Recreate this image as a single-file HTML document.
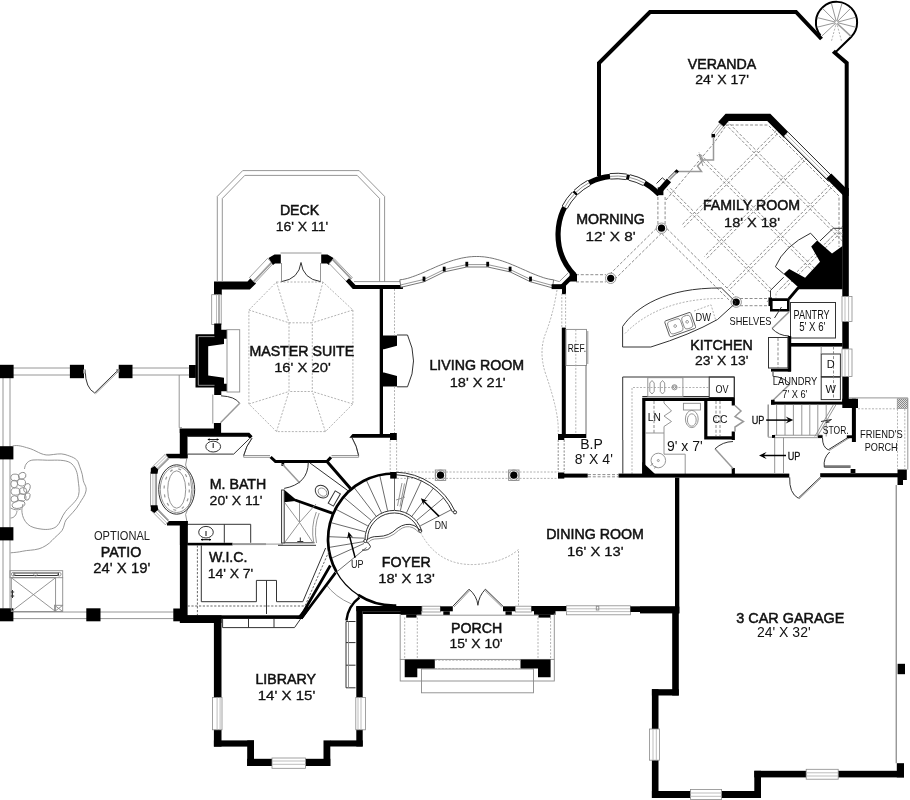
<!DOCTYPE html>
<html><head><meta charset="utf-8"><title>Floor Plan</title>
<style>
html,body{margin:0;padding:0;background:#fff}
svg{display:block;will-change:transform;filter:blur(0.35px)}
.w{fill:#000;stroke:none}
.wl{fill:none;stroke:#000;stroke-linejoin:miter;stroke-linecap:butt}
.t{fill:none;stroke:#333;stroke-width:1}
.tf{fill:#fff;stroke:#333;stroke-width:1}
.wf{fill:#fff;stroke:#8a8a8a;stroke-width:0.8}
.g{fill:none;stroke:#8a8a8a;stroke-width:0.9}
.gf{fill:#fff;stroke:#8a8a8a;stroke-width:0.9}
.d{fill:none;stroke:#777;stroke-width:0.85;stroke-dasharray:3 1.8}
.d2{fill:none;stroke:#a0a0a0;stroke-width:0.8;stroke-dasharray:2 1.5}
.dk{fill:none;stroke:#222;stroke-width:1.1}
.gl{fill:none;stroke:#b5b5b5;stroke-width:0.9}
.gf2{fill:#fff;stroke:#666;stroke-width:0.9}
.tr{fill:none;stroke:#5a5a5a;stroke-width:0.9}
.jet{fill:none;stroke:#999;stroke-width:1.2;stroke-dasharray:3 6}
.gd{fill:none;stroke:#999;stroke-width:1.5}
.dd{fill:none;stroke:#555;stroke-width:0.9;stroke-dasharray:2.2 1.6}
text{font-family:"Liberation Sans",sans-serif;fill:#111}
.r{stroke:#111;stroke-width:0.5}
.rd{stroke:#111;stroke-width:0.3}
.s{stroke:none}
.l{stroke:none;fill:#222}
.gw{fill:#999;stroke:none}
.wh{fill:none;stroke:#ccc;stroke-width:0.7}
.ar{fill:none;stroke:#000;stroke-width:1.5}
</style></head><body>
<svg width="910" height="800" viewBox="0 0 910 800">
<rect x="0" y="0" width="910" height="800" fill="#fff"/>
<path class="wl" stroke-width="4" d="M599,176 L599,63 L650,12 L796,12 L821.5,39"/>
<path class="wl" stroke-width="4" d="M836.3,51.2 L834.8,52.7 L846.7,63 L846.7,196"/>
<path class="wl" stroke-width="2" d="M820.5,35.4 A20.6,20.6 0 1 1 851.1,37.0 L835.7,52"/>
<line class="g" x1="835.0" y1="23.8" x2="822.0" y2="35.9"/>
<line class="g" x1="834.6" y1="22.9" x2="817.3" y2="27.2"/>
<line class="g" x1="834.6" y1="21.9" x2="817.3" y2="17.6"/>
<line class="g" x1="835.1" y1="21.0" x2="822.5" y2="8.4"/>
<line class="g" x1="836.0" y1="20.5" x2="831.4" y2="3.3"/>
<line class="g" x1="837.1" y1="20.5" x2="842.0" y2="3.4"/>
<line class="g" x1="837.9" y1="21.0" x2="850.5" y2="8.4"/>
<line class="g" x1="838.4" y1="21.9" x2="855.6" y2="17.3"/>
<line class="g" x1="838.4" y1="22.9" x2="855.7" y2="27.2"/>
<line class="d2" x1="837.3" y1="25.3" x2="841.6" y2="41.3"/>
<line class="d2" x1="835.7" y1="25.3" x2="831.4" y2="41.3"/>
<line class="gd" x1="837.7" y1="24.0" x2="851.0" y2="36.4"/>
<circle class="gf" cx="836.5" cy="22.4" r="1.8"/>
<clipPath id="famclip"><path d="M661,196 L713,136 L725,121 L770,121 L843,194 L843,290 L771,290 L771,302 L737,302 Z"/></clipPath>
<g clip-path="url(#famclip)">
<line class="d" x1="530.8" y1="100.0" x2="760.8" y2="330.0"/>
<line class="d" x1="535.2" y1="100.0" x2="765.2" y2="330.0"/>
<line class="d" x1="577.8" y1="100.0" x2="807.8" y2="330.0"/>
<line class="d" x1="582.2" y1="100.0" x2="812.2" y2="330.0"/>
<line class="d" x1="641.8" y1="100.0" x2="871.8" y2="330.0"/>
<line class="d" x1="646.2" y1="100.0" x2="876.2" y2="330.0"/>
<line class="d" x1="701.3" y1="100.0" x2="931.3" y2="330.0"/>
<line class="d" x1="705.7" y1="100.0" x2="935.7" y2="330.0"/>
<line class="d" x1="806.8" y1="100.0" x2="576.8" y2="330.0"/>
<line class="d" x1="811.2" y1="100.0" x2="581.2" y2="330.0"/>
<line class="d" x1="860.8" y1="100.0" x2="630.8" y2="330.0"/>
<line class="d" x1="865.2" y1="100.0" x2="635.2" y2="330.0"/>
<line class="d" x1="914.8" y1="100.0" x2="684.8" y2="330.0"/>
<line class="d" x1="919.2" y1="100.0" x2="689.2" y2="330.0"/>
<line class="d" x1="968.8" y1="100.0" x2="738.8" y2="330.0"/>
<line class="d" x1="973.2" y1="100.0" x2="743.2" y2="330.0"/>
</g>
<path class="d" d="M666.0,200.0 L714.0,143.0 L726.5,125.0 L768.0,125.0 L839.0,196.0 L839.0,247.0"/>
<path class="wl" stroke-width="7.2" d="M720.8,124.5 L727.2,117.4 L768.8,117.4 L787,135.8"/>
<path class="wf" d="M784.1,135.9 L829.1,180.9 L832.9,177.1 L787.9,132.1 Z"/>
<line class="gl" x1="786.0" y1="134.0" x2="831.0" y2="179.0"/>
<line class="t" x1="788.5" y1="132.5" x2="832.5" y2="176.5"/>
<line class="t" x1="784.0" y1="137.0" x2="828.5" y2="181.5"/>
<path class="wl" stroke-width="7.2" d="M828.8,176 L846,193.2"/>
<rect class="w" x="842.3" y="188.0" width="6.5" height="214.0"/>
<path class="wf" d="M715.3,136.4 L723.3,126.4 L719.7,123.6 L711.7,133.6 Z"/>
<line class="gl" x1="713.5" y1="135.0" x2="721.5" y2="125.0"/>
<rect class="w" x="711.5" y="134.0" width="3.5" height="3.5"/>
<path class="gd" d="M713.5,137 L713.5,160 L703,160 L699,154 M703,160 L697.5,166 L701.5,171.5 L678,171.5"/>
<path class="g" d="M699,154 L703,166"/>
<path class="w" d="M676.6,169.2 L679.0,171.6 L676.6,174.0 L674.2,171.6 Z"/>
<path class="gd" d="M669.6,179.6 L676.6,172.6"/>
<path class="t" d="M668.2,178.2 L675.3,171.2"/>
<path class="t" d="M656.5,183.5 L662.3,177.8 L665.5,180.6"/>
<path class="wl" stroke-width="5.5" d="M659.8,190.8 L669,180.4"/>
<rect class="w" x="657.7" y="187.4" width="5.7" height="7.8"/>
<path class="wl" stroke-width="5.2" d="M659.3,194.6 A58.5,58.5 0 1 0 574.4,275.1"/>
<path fill="none" stroke="#fff" stroke-width="5.6" d="M644.4,183.1 A58.5,58.5 0 0 0 629.4,177.4"/>
<path class="t" d="M643.1,185.5 A55.7,55.7 0 0 0 628.7,180.2"/>
<path class="g" d="M644.4,183.1 A58.5,58.5 0 0 0 629.4,177.4"/>
<path class="t" d="M645.7,180.6 A61.3,61.3 0 0 0 630.0,174.7"/>
<path fill="none" stroke="#fff" stroke-width="5.6" d="M626.4,176.8 A58.5,58.5 0 0 0 610.0,176.4"/>
<path class="t" d="M625.9,179.6 A55.7,55.7 0 0 0 610.3,179.1"/>
<path class="g" d="M626.4,176.8 A58.5,58.5 0 0 0 610.0,176.4"/>
<path class="t" d="M626.8,174.1 A61.3,61.3 0 0 0 609.7,173.6"/>
<path fill="none" stroke="#fff" stroke-width="5.6" d="M589.0,182.8 A58.5,58.5 0 0 0 576.0,192.3"/>
<path class="t" d="M590.4,185.3 A55.7,55.7 0 0 0 577.9,194.3"/>
<path class="g" d="M589.0,182.8 A58.5,58.5 0 0 0 576.0,192.3"/>
<path class="t" d="M587.7,180.4 A61.3,61.3 0 0 0 574.1,190.3"/>
<path fill="none" stroke="#fff" stroke-width="5.6" d="M574.4,193.9 A58.5,58.5 0 0 0 564.7,207.3"/>
<path class="t" d="M576.4,195.8 A55.7,55.7 0 0 0 567.2,208.6"/>
<path class="g" d="M574.4,193.9 A58.5,58.5 0 0 0 564.7,207.3"/>
<path class="t" d="M572.4,191.9 A61.3,61.3 0 0 0 562.2,206.0"/>
<line class="d" x1="657.9" y1="197.0" x2="657.9" y2="224.0"/>
<line class="d" x1="576.0" y1="274.7" x2="606.0" y2="274.7"/>
<line class="d" x1="656.5" y1="228.2" x2="610.7" y2="273.3"/>
<line class="d" x1="662.0" y1="233.7" x2="730.7" y2="301.6"/>
<line class="d" x1="740.0" y1="298.5" x2="770.0" y2="298.5"/>
<line class="d" x1="665.1" y1="197.0" x2="665.1" y2="224.0"/>
<line class="d" x1="576.0" y1="281.9" x2="606.0" y2="281.9"/>
<line class="d" x1="661.5" y1="233.2" x2="615.7" y2="278.3"/>
<line class="d" x1="667.0" y1="228.7" x2="735.7" y2="296.6"/>
<line class="d" x1="740.0" y1="305.7" x2="770.0" y2="305.7"/>
<circle class="g" cx="661.5" cy="228.2" r="5.2"/>
<circle class="w" cx="661.5" cy="228.2" r="3.6"/>
<circle class="g" cx="610.7" cy="278.3" r="5.2"/>
<circle class="w" cx="610.7" cy="278.3" r="3.6"/>
<circle class="g" cx="736.2" cy="302.1" r="5.2"/>
<circle class="w" cx="736.2" cy="302.1" r="3.6"/>
<path class="w" d="M569.7,274.0 L572.5,270.5 L577.0,274.3 L577.0,281.5 L569.7,281.5 Z"/>
<path class="w" d="M842.5,245.9 L832.0,253.6 L817.2,240.4 L811.2,246.4 L820.0,261.8 L805.1,277.8 L789.2,269.0 L783.7,273.9 L798.0,287.1 L796.5,289.2 L842.5,289.2 Z"/>
<path class="wl" stroke-width="2.8" d="M798.5,287.5 L788.8,299"/>
<path class="t" d="M775.4,266.8 Q784,246 810.6,233.2 L817.2,240.4 M775.4,266.8 L783.7,273.9"/>
<path class="t" d="M842.5,228.3 L833.2,228.3 L820,240.9"/>
<path class="d2" d="M842.5,233.5 L835,233.5 L824.5,244"/>
<path class="t" d="M783.7,277.2 L770.5,290.4 L770.5,297.6"/>
<path class="d2" d="M788,281 L776,293 L776,297.6"/>
<path class="wl" stroke-width="2.6" d="M771.3,299.6 L788.3,299.6 L788.3,310.3 L771.3,310.3 Z"/>
<rect class="w" x="768.5" y="297.5" width="3.5" height="8.5"/>
<rect class="t" x="790.5" y="302.5" width="45.0" height="35.5"/>
<path class="gd" d="M789,312 L772,328.5"/>
<path class="t" d="M772,328.5 A24,24 0 0 0 789,336"/>
<line class="t" x1="781.5" y1="307.0" x2="774.5" y2="318.0"/>
<rect class="w" x="789.0" y="343.0" width="53.5" height="3.6"/>
<rect class="w" x="787.8" y="336.0" width="3.4" height="35.5"/>
<rect class="w" x="771.0" y="368.8" width="20.0" height="2.8"/>
<rect class="t" x="768.5" y="337.5" width="19.5" height="30.5"/>
<line class="d" x1="778.0" y1="338.0" x2="778.0" y2="368.0"/>
<rect class="wf" x="842.0" y="296.5" width="10.0" height="25.0"/>
<line class="gl" x1="845.0" y1="296.5" x2="845.0" y2="321.5"/>
<line class="gl" x1="848.6" y1="296.5" x2="848.6" y2="321.5"/>
<rect class="wf" x="842.0" y="349.0" width="10.0" height="27.5"/>
<line class="gl" x1="845.0" y1="349.0" x2="845.0" y2="376.5"/>
<line class="gl" x1="848.6" y1="349.0" x2="848.6" y2="376.5"/>
<rect class="t" x="821.2" y="354.0" width="19.2" height="22.6"/>
<rect class="t" x="821.2" y="377.2" width="19.2" height="22.4"/>
<line class="g" x1="821.2" y1="346.5" x2="821.2" y2="354.0"/>
<line class="d" x1="833.5" y1="346.5" x2="833.5" y2="399.0"/>
<path class="gd" d="M772,401.3 L790,384"/>
<path class="t" d="M790,384 A25,25 0 0 0 773,376.3 L773,372"/>
<path class="t" d="M622.6,326.5 C636,307 665,287.5 721.5,288 L736.2,302.5 L717.5,319.5 Q690,335 650.8,347 L622.6,347 Z"/>
<path class="d2" d="M625,333.5 C642,316 672,298 723,298.5"/>
<g transform="rotate(-19.5 680.2 324.6)">
<rect class="tr" x="666.4" y="316.2" width="27.6" height="16.8" rx="1.5"/>
<rect class="g" x="668.2" y="318" width="13.6" height="13.2" rx="3"/>
<rect class="g" x="683.2" y="318" width="9" height="13.2" rx="3"/>
<circle class="g" cx="675.0" cy="324.3" r="1.3"/>
<circle class="g" cx="687.7" cy="324.3" r="1.3"/>
</g>
<path class="d2" d="M694,311 L711,304.8 L715.5,319.5"/>
<path class="t" d="M622.7,474 L622.7,377 L734.3,377 L734.3,398"/>
<path class="t" d="M642.3,396.5 L709,396.5"/>
<rect class="t" x="709.2" y="377.0" width="25.1" height="20.5"/>
<rect class="g" x="647.8" y="377.7" width="35.1" height="18.8"/>
<path class="d2" d="M632,474 L632,387.5 L709,387.5"/>
<path class="g" d="M649.8,383 L652,380.5 L654.2,383 L654.2,391.5 L652,394 L649.8,391.5 Z"/>
<path class="g" d="M660.3,383 L662.5,380.5 L664.7,383 L664.7,391.5 L662.5,394 L660.3,391.5 Z"/>
<circle class="g" cx="674.5" cy="387.3" r="2.6"/>
<path class="g" d="M672.6,386 L676.4,386 L674.5,389 Z"/>
<path class="wl" stroke-width="3.2" d="M643.8,474 L643.8,399.3 L733.3,399.3 L733.3,405.5 M705.8,399.3 L705.8,437.8 L733.3,437.8 L733.3,431.5 M733.3,437.8 L733.3,440 M733.3,468 L733.3,474"/>
<path class="w" d="M642.3,462.0 L655.0,474.0 L642.3,474.0 Z"/>
<path class="g" d="M645,433 L664,433 M664,401 L664,403 L671.5,411 L664,416 L671.5,421.5 L664,426.5 L664,454.2 L685.2,454.2 L685.2,474"/>
<line class="d" x1="654.0" y1="401.0" x2="654.0" y2="433.0"/>
<rect class="g" x="683.4" y="403.3" width="17.0" height="6.7"/>
<ellipse class="g" cx="691.8" cy="419.0" rx="6.4" ry="8.6"/>
<ellipse class="g" cx="691.8" cy="420.0" rx="4.4" ry="6.2"/>
<circle class="g" cx="658.3" cy="460.5" r="7.3"/>
<circle class="g" cx="658.3" cy="460.5" r="1.0"/>
<path class="g" d="M650.5,466 L653,463 M654.5,468.5 L656,466"/>
<path class="gd" d="M735,405.5 L741,411 L735,416.5 L743.5,421.5 L735,427 L735,431.5"/>
<line class="d" x1="716.0" y1="401.0" x2="716.0" y2="436.0"/>
<line class="d" x1="720.0" y1="401.0" x2="720.0" y2="436.0"/>
<path class="gd" d="M733,468.5 L715,448.8"/>
<path class="t" d="M715,448.8 A27.3,27.3 0 0 1 733,441.5"/>
<rect class="w" x="771.0" y="401.6" width="81.5" height="3.0"/>
<rect class="w" x="771.0" y="399.8" width="3.6" height="4.8"/>
<rect class="w" x="842.3" y="398.7" width="15.7" height="9.3"/>
<rect class="w" x="851.9" y="398.7" width="4.0" height="43.3"/>
<line class="g" x1="768.2" y1="404.6" x2="768.2" y2="436.5"/>
<line class="g" x1="776.6" y1="404.6" x2="776.6" y2="436.5"/>
<line class="g" x1="785.0" y1="404.6" x2="785.0" y2="436.5"/>
<line class="g" x1="793.4" y1="404.6" x2="793.4" y2="436.5"/>
<line class="g" x1="801.8" y1="404.6" x2="801.8" y2="436.5"/>
<line class="g" x1="809.8" y1="404.6" x2="809.8" y2="436.5"/>
<line class="g" x1="817.8" y1="404.6" x2="817.8" y2="436.5"/>
<line class="g" x1="826.2" y1="404.6" x2="826.2" y2="436.5"/>
<line class="g" x1="768.2" y1="404.6" x2="768.2" y2="437.2"/>
<line class="g" x1="768.2" y1="437.2" x2="773.0" y2="437.2"/>
<rect class="gf" x="774.7" y="435.2" width="47.3" height="2.5"/>
<rect class="w" x="772.0" y="435.0" width="3.0" height="2.9"/>
<rect class="w" x="818.0" y="435.3" width="4.5" height="2.6"/>
<path class="g" d="M835.8,405 L817,437 M833.3,405 L814.8,436.5"/>
<path class="t" d="M821,421.5 L831.5,419.5 L826,422.5 L829.5,422"/>
<line class="g" x1="774.7" y1="437.7" x2="774.7" y2="473.0"/>
<line class="g" x1="783.5" y1="437.7" x2="783.5" y2="473.0"/>
<path class="t" d="M822.5,438 Q822.5,447 828.2,449.8 L849.5,436.5"/>
<path class="g" d="M829,450.7 L850,437.4"/>
<rect class="w" x="846.8" y="435.3" width="5.7" height="2.9"/>
<path class="t" d="M829.7,452 Q823,458 824.3,467.2 L850.6,467.2 M824.3,466 L850.6,466"/>
<rect class="w" x="850.6" y="469.0" width="4.8" height="4.0"/>
<line class="ar" x1="766.2" y1="420.1" x2="789.5" y2="420.1"/>
<path class="w" d="M793.3,420.1 L785.7,423.6 L788.7,420.1 L785.7,416.6 Z"/>
<line class="ar" x1="786.0" y1="455.5" x2="762.8" y2="455.5"/>
<path class="w" d="M759.0,455.5 L766.6,452.0 L763.6,455.5 L766.6,459.0 Z"/>
<rect class="w" x="558.0" y="472.5" width="6.3" height="6.1"/>
<rect class="w" x="564.0" y="473.6" width="23.7" height="4.0"/>
<rect class="w" x="618.5" y="473.6" width="170.8" height="4.0"/>
<rect class="w" x="820.2" y="473.2" width="78.8" height="4.1"/>
<path class="w" d="M897.5,469.6 L906.8,469.6 L906.8,480.0 L903.0,480.0 L903.0,485.0 L897.5,485.0 Z"/>
<line class="d" x1="588.0" y1="474.6" x2="618.5" y2="474.6"/>
<line class="d" x1="588.0" y1="476.8" x2="618.5" y2="476.8"/>
<path class="t" d="M789.7,477.3 Q789,493 798.2,498.2 L820.2,477.3"/>
<path class="g" d="M799,499 L821,478"/>
<path class="g" d="M848.8,397.9 L907.8,397.9 L907.8,469.6"/>
<pattern id="hat" width="2" height="2" patternUnits="userSpaceOnUse"><rect width="2" height="2" fill="#ddd"/><rect width="1" height="1" fill="#888"/><rect x="1" y="1" width="1" height="1" fill="#888"/></pattern>
<rect x="897.2" y="398.8" width="10.3" height="9.8" fill="url(#hat)" stroke="#888" stroke-width="0.6"/>
<line class="d2" x1="858.0" y1="408.8" x2="897.5" y2="408.8"/>
<line class="d2" x1="897.5" y1="408.8" x2="897.5" y2="469.6"/>
<line class="d2" x1="904.8" y1="408.8" x2="904.8" y2="469.6"/>
<rect class="w" x="675.0" y="477.6" width="4.3" height="135.8"/>
<rect class="w" x="640.0" y="606.6" width="39.3" height="6.8"/>
<rect class="w" x="672.2" y="613.0" width="6.6" height="82.5"/>
<rect class="w" x="651.9" y="689.2" width="26.9" height="6.3"/>
<rect class="w" x="651.9" y="689.2" width="6.6" height="108.8"/>
<rect class="w" x="651.9" y="791.0" width="109.1" height="7.0"/>
<rect class="w" x="754.3" y="770.8" width="6.7" height="27.2"/>
<rect class="w" x="754.3" y="770.8" width="149.7" height="6.6"/>
<rect class="w" x="896.8" y="763.2" width="7.2" height="14.2"/>
<rect class="wf" x="649.5" y="729.0" width="10.0" height="31.2"/>
<line class="gl" x1="653.0" y1="729.0" x2="653.0" y2="760.2"/>
<line class="gl" x1="656.3" y1="729.0" x2="656.3" y2="760.2"/>
<rect class="wf" x="690.4" y="789.5" width="31.2" height="10.0"/>
<line class="gl" x1="690.4" y1="793.0" x2="721.6" y2="793.0"/>
<line class="gl" x1="690.4" y1="796.3" x2="721.6" y2="796.3"/>
<rect class="wf" x="806.2" y="769.3" width="32.0" height="9.9"/>
<line class="gl" x1="806.2" y1="772.8" x2="838.2" y2="772.8"/>
<line class="gl" x1="806.2" y1="776.0" x2="838.2" y2="776.0"/>
<line class="tr" x1="896.2" y1="485.0" x2="896.2" y2="763.2"/>
<rect class="w" x="897.6" y="663.8" width="7.4" height="10.4"/>
<rect class="w" x="356.3" y="606.0" width="65.7" height="5.2"/>
<rect class="w" x="400.5" y="611.0" width="21.0" height="3.8"/>
<rect class="w" x="406.2" y="614.6" width="10.3" height="3.0"/>
<rect class="wf" x="422.0" y="606.2" width="18.5" height="5.8"/>
<line class="gl" x1="422.0" y1="609.0" x2="440.5" y2="609.0"/>
<rect class="w" x="440.3" y="606.3" width="12.5" height="5.0"/>
<rect class="w" x="443.3" y="611.3" width="6.5" height="3.7"/>
<rect class="w" x="503.0" y="606.3" width="12.5" height="5.0"/>
<rect class="w" x="505.5" y="611.3" width="6.3" height="3.7"/>
<rect class="wf" x="515.5" y="606.2" width="16.1" height="5.8"/>
<line class="gl" x1="515.5" y1="609.0" x2="531.6" y2="609.0"/>
<rect class="w" x="531.4" y="606.0" width="35.1" height="5.2"/>
<rect class="w" x="534.0" y="611.0" width="21.5" height="3.8"/>
<rect class="w" x="538.5" y="614.6" width="12.0" height="3.0"/>
<rect class="wf" x="566.5" y="605.8" width="64.1" height="9.0"/>
<line class="gl" x1="566.5" y1="608.8" x2="630.4" y2="608.8"/>
<line class="gl" x1="566.5" y1="611.6" x2="630.4" y2="611.6"/>
<rect class="g" x="596.3" y="606.2" width="2.5" height="3.8"/>
<rect class="w" x="630.4" y="606.3" width="45.6" height="5.7"/>
<path class="t" d="M452.8,606.3 L469.1,589.2 Q477,596 477.9,605.3 Q478.8,596 485.4,589.2 L503,606.3"/>
<path class="g" d="M454,607 L470,590.2 M501.8,607 L484.5,590.2"/>
<line class="g" x1="417.0" y1="615.2" x2="538.0" y2="615.2"/>
<rect class="g" x="400.2" y="659.4" width="154.1" height="21.6"/>
<rect class="g" x="421.5" y="669.0" width="112.0" height="23.8"/>
<path class="w" d="M404.7,659.4 L434.8,659.4 L434.8,668.4 L417.3,668.4 L417.3,677.3 L404.7,677.3 Z"/>
<path class="w" d="M520.5,659.4 L550.6,659.4 L550.6,677.3 L538.0,677.3 L538.0,668.4 L520.5,668.4 Z"/>
<line class="d2" x1="434.8" y1="660.2" x2="520.5" y2="660.2"/>
<line class="d2" x1="434.8" y1="668.6" x2="520.5" y2="668.6"/>
<line class="d2" x1="404.7" y1="617.5" x2="404.7" y2="659.4"/>
<line class="d2" x1="417.3" y1="617.5" x2="417.3" y2="659.4"/>
<line class="d2" x1="538.0" y1="617.5" x2="538.0" y2="659.4"/>
<line class="d2" x1="550.6" y1="617.5" x2="550.6" y2="659.4"/>
<line class="g" x1="400.2" y1="613.5" x2="400.2" y2="659.4"/>
<line class="g" x1="554.3" y1="613.5" x2="554.3" y2="659.4"/>
<path class="d2" d="M420.5,532.5 Q438,566 475,564.5 Q503,563 518.5,549.5 L518.5,606"/>
<line class="d2" x1="397.0" y1="472.0" x2="558.0" y2="472.0"/>
<line class="d2" x1="397.0" y1="478.4" x2="558.0" y2="478.4"/>
<line class="d2" x1="390.2" y1="440.0" x2="390.2" y2="472.0"/>
<line class="d2" x1="396.6" y1="440.0" x2="396.6" y2="472.0"/>
<line class="d2" x1="558.2" y1="440.0" x2="558.2" y2="472.0"/>
<line class="d2" x1="564.2" y1="440.0" x2="564.2" y2="472.0"/>
<line class="tr" x1="364.5" y1="538.2" x2="329.1" y2="536.7"/>
<line class="tr" x1="365.5" y1="531.9" x2="331.2" y2="522.7"/>
<line class="tr" x1="367.8" y1="525.9" x2="336.3" y2="509.5"/>
<line class="tr" x1="371.4" y1="520.5" x2="344.2" y2="497.7"/>
<line class="tr" x1="376.0" y1="516.1" x2="354.4" y2="487.9"/>
<line class="tr" x1="381.5" y1="512.8" x2="366.5" y2="480.6"/>
<line class="tr" x1="387.6" y1="510.7" x2="379.9" y2="476.0"/>
<line class="tr" x1="394.5" y1="510.0" x2="394.5" y2="474.5"/>
<line class="tr" x1="400.4" y1="510.7" x2="408.1" y2="476.0"/>
<line class="tr" x1="406.5" y1="512.8" x2="421.5" y2="480.6"/>
<line class="tr" x1="412.0" y1="516.1" x2="433.6" y2="487.9"/>
<line class="tr" x1="416.6" y1="520.5" x2="443.8" y2="497.7"/>
<line class="tr" x1="420.2" y1="525.9" x2="451.7" y2="509.5"/>
<line class="tr" x1="328.5" y1="547.5" x2="364.5" y2="541.5"/>
<line class="tr" x1="330.8" y1="558.5" x2="364.0" y2="543.5"/>
<line class="tr" x1="336.0" y1="572.5" x2="366.5" y2="547.5"/>
<path class="wl" stroke-width="2.7" d="M394.0,473.5 A66,66 0 0 0 336.3,571.5"/>
<path class="wl" stroke-width="1.3" d="M335.7,570.5 A66,66 0 0 0 359.0,595.5"/>
<path class="wl" stroke-width="2.7" d="M358.1,594.9 A66,66 0 0 0 396.3,605.5"/>
<rect class="w" x="362.7" y="611.2" width="38.3" height="2.8"/>
<path class="wl" stroke-width="2.4" d="M359.5,597.5 Q348,606 346.4,620.5"/>
<path class="g" d="M326,584.3 Q335,597 351.6,604"/>
<path class="t" d="M396.3,474.8 A64.7,64.7 0 0 1 452.6,512.2"/>
<path class="t" d="M396.3,472.2 A67.3,67.3 0 0 1 455.0,511.1"/>
<circle class="tf" cx="455.0" cy="512.3" r="1.6"/>
<path class="t" d="M367.5,539.5 A26.5,26.5 0 0 1 419.2,531.3"/>
<path class="t" d="M365.0,539.5 A29,29 0 0 1 421.6,530.5"/>
<circle class="tf" cx="420.3" cy="531.0" r="1.5"/>
<path class="t" d="M366,541 Q370,536.2 378,536.5 Q389,536.5 397,528.5 Q406,522 414,525.5 Q418,527.5 420.5,530.5"/>
<path class="g" d="M368,542.8 Q371,538.6 378,538.8 Q390,538.8 398.5,530.5 Q406,524.5 413,527.8 Q416.5,529.5 418.8,532.5"/>
<path class="t" d="M365.5,541.5 Q369.5,543 370.5,546.5 Q369,551 362,550"/>
<circle class="tf" cx="365.3" cy="541.0" r="1.6"/>
<path class="g" d="M402,483 L397.5,506 M404.5,483.5 L400,506.5 M396,500 L405,497"/>
<rect class="w" x="390.2" y="472.0" width="6.5" height="6.6"/>
<rect class="w" x="390.0" y="433.0" width="6.8" height="7.0"/>
<rect class="w" x="558.0" y="434.0" width="6.3" height="6.0"/>
<line class="ar" x1="355.1" y1="557.8" x2="349.3" y2="535.1"/>
<path class="w" d="M348.5,531.8 L353.1,537.6 L349.5,535.7 L347.1,539.1 Z"/>
<line class="ar" x1="439.1" y1="516.4" x2="423.3" y2="500.7"/>
<path class="w" d="M420.9,498.3 L427.9,500.9 L423.8,501.2 L423.6,505.3 Z"/>
<rect class="g" x="435.3" y="470.0" width="10.4" height="10.4"/>
<circle class="g" cx="440.5" cy="475.2" r="5.2"/>
<circle class="w" cx="440.5" cy="475.2" r="3.6"/>
<rect class="g" x="508.6" y="470.0" width="10.4" height="10.4"/>
<circle class="g" cx="513.8" cy="475.2" r="5.2"/>
<circle class="w" cx="513.8" cy="475.2" r="3.6"/>
<rect class="w" x="356.3" y="606.3" width="6.4" height="140.2"/>
<rect class="w" x="330.0" y="740.4" width="32.7" height="6.1"/>
<rect class="w" x="323.5" y="740.4" width="6.8" height="25.6"/>
<rect class="w" x="247.2" y="758.8" width="83.1" height="7.2"/>
<rect class="w" x="247.2" y="740.4" width="6.8" height="25.6"/>
<rect class="w" x="213.9" y="740.4" width="40.1" height="6.2"/>
<rect class="w" x="213.9" y="616.0" width="7.6" height="130.6"/>
<rect class="w" x="180.0" y="615.3" width="122.0" height="3.6"/>
<path class="wl" stroke-width="2.7" d="M300.3,617.5 L330.3,565.5 M301.2,618.5 L335.6,572.6"/>
<path class="w" d="M296.0,619.0 L302.5,619.0 L311.0,607.0 L306.0,607.0 Z"/>
<rect class="wf" x="212.5" y="697.5" width="9.5" height="32.3"/>
<line class="gl" x1="217.1" y1="697.5" x2="217.1" y2="729.8"/>
<line class="gl" x1="220.1" y1="697.5" x2="220.1" y2="729.8"/>
<rect class="wf" x="355.8" y="697.5" width="9.8" height="32.3"/>
<line class="gl" x1="361.0" y1="697.5" x2="361.0" y2="729.8"/>
<line class="gl" x1="358.0" y1="697.5" x2="358.0" y2="729.8"/>
<rect class="wf" x="272.0" y="758.0" width="33.5" height="10.3"/>
<line class="gl" x1="272.0" y1="761.0" x2="305.5" y2="761.0"/>
<line class="gl" x1="272.0" y1="764.3" x2="305.5" y2="764.3"/>
<path class="t" d="M222.6,619 L222.6,627.6 L294.5,627.6 L300.5,619 M248.5,619 L248.5,627.6 M274,619 L274,627.6"/>
<path class="t" d="M355.5,621.5 L346,621.5 L346,687.8 L355.5,687.8 M346,642.6 L355.5,642.6 M346,665.2 L355.5,665.2"/>
<line class="g" x1="348.5" y1="621.5" x2="348.5" y2="687.8"/>
<rect class="w" x="179.9" y="521.0" width="7.7" height="102.0"/>
<rect class="w" x="179.9" y="615.3" width="41.6" height="7.7"/>
<rect class="w" x="187.5" y="542.8" width="45.1" height="2.6"/>
<rect class="gw" x="232.6" y="543.1" width="33.4" height="2.0"/>
<path class="t" d="M201.3,545.4 L201.3,601.7 L256.4,601.7 L256.4,580.4 L276.5,580.4 L276.5,601.7 L302.8,601.7 L325.6,548"/>
<line class="t" x1="266.5" y1="580.4" x2="266.5" y2="614.0"/>
<path class="dd" d="M197.4,545.4 L197.4,615 M187.6,606 L305,606 L329.5,550"/>
<line class="g" x1="266.0" y1="544.1" x2="283.0" y2="544.1"/>
<path class="t" d="M187.6,524.3 L250.7,524.3 L250.7,542.8 M224.3,524.3 L224.3,542.8"/>
<ellipse class="t" cx="206.0" cy="532.2" rx="7.3" ry="5.8"/>
<path class="dk" d="M206,531 L206,536 M201,539.6 L211,539.6"/>
<path class="w" d="M200.8,539.6 l2,-1.2 v2.4 Z M211.2,539.6 l-2,-1.2 v2.4 Z"/>
<rect class="w" x="166.2" y="453.8" width="21.3" height="4.5"/>
<rect class="w" x="167.0" y="521.0" width="20.5" height="4.5"/>
<path class="wf" d="M165.1,454.4 L151.1,468.2 L154.1,471.4 L168.1,457.6 Z"/>
<line class="gl" x1="166.6" y1="456.0" x2="152.6" y2="469.8"/>
<path class="wf" d="M151.0,510.4 L165.4,524.8 L168.6,521.6 L154.2,507.2 Z"/>
<line class="gl" x1="152.6" y1="508.8" x2="167.0" y2="523.2"/>
<path class="wf" d="M150.5,472.0 L150.5,506.5 L155.3,506.5 L155.3,472.0 Z"/>
<line class="gl" x1="152.9" y1="472.0" x2="152.9" y2="506.5"/>
<path class="gd" d="M168.5,458.8 L156,471 M156,507.5 L168.5,520.5 M156.3,473 L156.3,506"/>
<path class="w" d="M150.8,468.6 L154.5,466.0 L158.2,469.5 L157.5,473.7 L150.8,473.7 Z"/>
<path class="w" d="M150.8,505.2 L157.5,505.2 L158.2,509.5 L154.5,513.0 L150.8,510.4 Z"/>
<path class="g" d="M186.8,458.3 L185.6,465 Q198,489.5 185.6,514.5 L186.8,521"/>
<ellipse class="t" cx="176.7" cy="489.5" rx="18.0" ry="24.7"/>
<ellipse class="g" cx="176.7" cy="489.5" rx="16.4" ry="23.0"/>
<ellipse class="g" cx="176.7" cy="489.5" rx="9.0" ry="18.7"/>
<ellipse class="jet" cx="176.7" cy="489.5" rx="12.6" ry="20.8"/>
<path class="w" d="M179.6,428.4 L213.9,428.4 L213.9,423.0 L221.1,423.0 L221.1,432.7 L249.3,432.7 L252.6,436.2 L250.0,438.8 L247.5,436.4 L187.5,436.4 L187.5,458.3 L179.8,458.3 L179.8,433.0 L179.6,433.0 Z"/>
<path class="t" d="M187.6,436.4 L247.5,436.4 M249.5,438.6 L233.7,454.1 L187.6,454.1"/>
<ellipse class="t" cx="213.2" cy="446.6" rx="7.4" ry="5.4"/>
<path class="dk" d="M213.2,443 L213.2,448 M208,439.5 L218.4,439.5"/>
<path class="w" d="M207.4,439.5 l2.2,-1.3 v2.6 Z M219,439.5 l-2.2,-1.3 v2.6 Z"/>
<path class="g" d="M252,438.2 Q246,446 243.7,455.5 L270,455.5 M243.7,457.3 L270,457.3 M243.7,455.5 L243.7,457.3"/>
<path class="g" d="M352,437.7 Q357,446 358.6,455.5 L331.5,455.5 M358.6,457.3 L331.5,457.3 M358.6,455.5 L358.6,457.3"/>
<path class="t" d="M252,438.2 Q246,446 243.7,455.5 M352,437.7 Q357,446 358.6,455.5"/>
<path class="w" d="M349.3,437.8 L352.5,434.0 L396.0,434.0 L396.0,437.8 Z"/>
<path class="wl" stroke-width="3" d="M270.6,457 L275.5,461.6 L327,461.6 L331,457.2 M327,461.6 L350.5,488.5"/>
<path class="wl" stroke-width="2.8" d="M295,500 L333.6,513.6"/>
<path class="w" d="M281.8,490.0 L284.5,490.0 L297.5,500.8 L281.8,502.4 Z"/>
<rect class="w" x="281.5" y="461.7" width="2.7" height="4.3"/>
<rect class="tf" x="281.6" y="490.0" width="2.6" height="53.0"/>
<path class="gd" d="M282.5,464.3 L299.8,482.9"/>
<path class="t" d="M308.3,462.5 Q308,484 284.2,488.4"/>
<line class="t" x1="310.0" y1="463.0" x2="348.4" y2="491.0"/>
<g transform="rotate(-50 322.2 491.9)">
<ellipse class="t" cx="322.2" cy="491.5" rx="5.8" ry="7.2"/>
<ellipse class="g" cx="322.2" cy="492.3" rx="3.6" ry="4.8"/>
</g>
<g transform="rotate(30 334.3 498.5)">
<rect class="t" x="331.3" y="491.5" width="6.0" height="14.0"/>
</g>
<path class="t" d="M284.2,542.8 L314.5,542.8 M278,545.3 L316,545.3"/>
<path class="g" d="M319.2,513 Q313.5,527 316.5,543 M316.3,512 Q310.5,527 313.8,543"/>
<path class="g" d="M285,503 L299.5,522.5 L285,542 M316,504 L299.5,522.5 L312.5,542 M299.5,503 L299.5,522.5"/>
<path class="t" d="M300.3,537.5 L300.3,541.5 M297.3,541.5 L303.3,541.5"/>
<path class="d2" d="M276.5,282 L322.9,282 L352.9,310 L352.9,404 L325.4,431.6 L276.5,431.6 L248.9,404 L248.9,310 Z"/>
<path class="d2" d="M289,322.8 L312.3,322.8 L312.3,391.5 L289,391.5 Z"/>
<path class="d2" d="M276.5,282 L289,322.8 M322.9,282 L312.3,322.8 M352.9,310 L312.3,322.8 M248.9,310 L289,322.8 M248.9,404 L289,391.5 M352.9,404 L312.3,391.5 M276.5,431.6 L289,391.5 M325.4,431.6 L312.3,391.5"/>
<path class="w" d="M214.0,281.6 L247.5,281.6 L250.5,278.3 L256.0,283.5 L249.8,289.4 L221.8,289.4 L221.8,295.0 L214.0,295.0 Z"/>
<path class="wf" d="M255.0,282.8 L273.1,263.6 L267.5,258.4 L249.4,277.6 Z"/>
<line class="gl" x1="253.2" y1="281.1" x2="271.3" y2="261.9"/>
<line class="gd" x1="253.7" y1="281.6" x2="271.8" y2="262.4"/>
<path class="w" d="M268.5,258.0 L274.5,254.5 L280.8,254.5 L280.8,263.5 L275.0,263.5 L273.0,265.0 Z"/>
<path class="w" d="M321.2,254.5 L327.5,254.5 L333.5,258.0 L329.0,265.0 L327.0,263.5 L321.2,263.5 Z"/>
<path class="wf" d="M329.1,263.4 L347.3,282.4 L352.3,277.6 L334.1,258.6 Z"/>
<line class="gl" x1="332.5" y1="260.1" x2="350.7" y2="279.1"/>
<line class="gd" x1="333.0" y1="259.7" x2="351.2" y2="278.7"/>
<path class="w" d="M345.8,281.2 L349.0,278.3 L355.5,284.9 L402.9,284.9 L402.9,288.9 L352.8,288.9 Z"/>
<line class="g" x1="354.0" y1="281.6" x2="400.0" y2="281.6"/>
<path class="g" d="M280.5,253 L321.5,253 M281.5,263 L281.5,281.6 M320.5,263 L320.5,281.6"/>
<path class="t" d="M281.5,281.6 Q299,279 301,262.5 Q303,279 320.5,281.6"/>
<rect class="wf" x="211.7" y="294.7" width="9.5" height="29.7"/>
<line class="gl" x1="216.5" y1="294.7" x2="216.5" y2="324.4"/>
<line class="gd" x1="219.0" y1="294.7" x2="219.0" y2="324.4"/>
<path class="w" d="M214.2,323.5 L221.3,323.5 L221.3,329.7 L227.0,329.7 L227.0,338.7 L224.0,338.7 L224.0,344.0 L208.2,346.2 L208.2,375.5 L224.0,377.8 L224.0,383.7 L227.0,383.7 L227.0,391.2 L221.3,391.2 L221.3,395.0 L214.2,395.0 L214.2,387.5 L195.5,387.5 L195.5,334.2 L214.2,334.2 Z"/>
<path class="wh" d="M214.5,336.6 L198.3,336.6 L198.3,385.3 L214.5,385.3"/>
<rect class="g" x="227.0" y="329.7" width="12.7" height="62.3"/>
<rect class="w" x="189.2" y="365.0" width="6.4" height="12.7"/>
<line class="g" x1="212.8" y1="394.5" x2="212.8" y2="423.5"/>
<path class="t" d="M221,395.8 Q235,396.5 239.7,403.3"/>
<path class="gd" d="M239.7,403.3 L220.5,422.8"/>
<rect class="w" x="379.7" y="288.0" width="3.3" height="148.0"/>
<path class="w" d="M382.5,335.5 L397.0,335.5 L397.0,345.8 L384.0,349.2 L382.5,349.2 Z"/>
<path class="w" d="M382.5,372.5 L384.0,372.5 L397.0,376.0 L397.0,386.5 L382.5,386.5 Z"/>
<line class="d2" x1="394.5" y1="289.0" x2="394.5" y2="335.5"/>
<line class="d2" x1="394.5" y1="386.5" x2="394.5" y2="433.0"/>
<path class="t" d="M397,335 L407.5,335 Q419.5,361 407.5,386.8 L397,386.8"/>
<path class="g" d="M217.3,281.6 L217.3,196.4 L242.7,170.6 L359.2,170.6 L384.6,196.4 L384.6,281.6"/>
<path class="g" d="M222.3,281.6 L222.3,198.5 L244.8,175.4 L357.2,175.4 L379.6,198.5 L379.6,281.6"/>
<path class="gf2" d="M399.8,279.8 L402.4,279.5 L404.9,279.0 L407.5,278.4 L410.1,277.6 L412.6,276.7 L415.2,275.8 L417.7,274.8 L420.3,273.8 L422.9,272.7 L425.4,271.6 L428.0,270.4 L430.6,269.3 L433.1,268.2 L435.7,267.0 L438.2,265.9 L440.8,264.9 L443.4,263.8 L445.9,262.8 L448.5,261.9 L451.1,261.0 L453.6,260.2 L456.2,259.5 L458.8,258.8 L461.3,258.2 L463.9,257.7 L466.4,257.3 L469.0,256.9 L471.6,256.7 L474.1,256.5 L476.7,256.5 L479.3,256.5 L481.8,256.7 L484.4,256.9 L487.0,257.3 L489.5,257.7 L492.1,258.2 L494.6,258.8 L497.2,259.5 L499.8,260.2 L502.3,261.0 L504.9,261.9 L507.5,262.8 L510.0,263.8 L512.6,264.9 L515.1,265.9 L517.7,267.0 L520.3,268.2 L522.8,269.3 L525.4,270.4 L528.0,271.6 L530.5,272.7 L533.1,273.8 L535.7,274.8 L538.2,275.8 L540.8,276.7 L543.3,277.6 L545.9,278.4 L548.5,279.0 L551.0,279.5 L553.6,279.8 L552.5,287.9 L530.5,281.8 L510.1,271.9 L487.7,267.0 L466.8,267.0 L444.2,271.9 L424.0,281.8 L400.9,287.3 Z"/>
<path class="g" d="M400.9,284.9 L424.0,279.4 L444.2,269.5 L466.8,264.6 L487.7,264.6 L510.1,269.5 L530.5,279.4 L552.5,285.5"/>
<rect class="w" x="422.6" y="276.6" width="2.8" height="4.8"/>
<rect class="w" x="442.8" y="266.7" width="2.8" height="4.8"/>
<rect class="w" x="465.4" y="261.8" width="2.8" height="4.8"/>
<rect class="w" x="486.3" y="261.8" width="2.8" height="4.8"/>
<rect class="w" x="508.7" y="266.7" width="2.8" height="4.8"/>
<rect class="w" x="529.1" y="276.6" width="2.8" height="4.8"/>
<rect class="w" x="551.6" y="284.2" width="10.9" height="4.9"/>
<rect class="w" x="562.0" y="284.2" width="4.0" height="10.0"/>
<path class="wl" stroke-width="4.4" d="M562.3,286.3 L572.8,275.8"/>
<path class="g" d="M553.8,280 L559.3,281.6 L568.3,272.8"/>
<rect class="w" x="561.8" y="327.6" width="4.0" height="108.4"/>
<rect class="w" x="558.0" y="434.0" width="28.3" height="4.0"/>
<line class="d2" x1="561.8" y1="293.5" x2="561.8" y2="327.6"/>
<line class="d2" x1="565.6" y1="293.5" x2="565.6" y2="327.6"/>
<rect class="g" x="566.0" y="329.4" width="20.5" height="36.1"/>
<line class="g" x1="587.8" y1="331.0" x2="587.8" y2="364.0"/>
<line class="d2" x1="575.8" y1="329.4" x2="575.8" y2="434.0"/>
<line class="tr" x1="586.0" y1="365.5" x2="586.0" y2="434.0"/>
<path class="d2" d="M557,290 Q553,315 545,335 Q539,352 545,372 Q553,395 556,410 Q559,425 558,434"/>
<line class="d2" x1="558.3" y1="440.0" x2="558.3" y2="472.0"/>
<line class="d2" x1="564.2" y1="440.0" x2="564.2" y2="472.0"/>
<line class="g" x1="622.9" y1="474.0" x2="622.9" y2="440.0"/>
<line class="g" x1="12.5" y1="368.0" x2="70.2" y2="368.0"/>
<line class="g" x1="131.6" y1="368.0" x2="189.5" y2="368.0"/>
<line class="g" x1="12.5" y1="375.0" x2="70.2" y2="375.0"/>
<line class="g" x1="131.6" y1="375.0" x2="189.5" y2="375.0"/>
<line class="g" x1="3.0" y1="378.0" x2="3.0" y2="608.5"/>
<line class="g" x1="10.0" y1="378.0" x2="10.0" y2="608.5"/>
<line class="g" x1="12.5" y1="612.0" x2="173.7" y2="612.0"/>
<line class="g" x1="12.5" y1="618.6" x2="173.7" y2="618.6"/>
<line class="g" x1="179.2" y1="375.0" x2="179.2" y2="427.7"/>
<line class="g" x1="179.2" y1="427.7" x2="182.0" y2="427.7"/>
<rect class="w" x="0.0" y="364.8" width="13.6" height="13.4"/>
<rect class="w" x="69.9" y="364.8" width="14.1" height="13.4"/>
<rect class="w" x="118.7" y="364.8" width="13.8" height="13.4"/>
<rect class="w" x="189.2" y="365.0" width="6.4" height="12.8"/>
<rect class="w" x="0.0" y="446.2" width="13.4" height="13.2"/>
<rect class="w" x="0.0" y="527.2" width="13.4" height="13.2"/>
<rect class="w" x="0.0" y="608.3" width="13.4" height="13.0"/>
<rect class="w" x="86.3" y="608.3" width="14.2" height="13.0"/>
<rect class="w" x="173.3" y="608.5" width="7.7" height="12.8"/>
<path class="t" d="M85.2,371 Q85.5,388 94.7,393 L117.8,370.3"/>
<path class="g" d="M95.5,393.8 L118.6,371.2"/>
<rect class="g" x="83.5" y="370.0" width="2.0" height="3.0"/>
<rect class="g" x="116.8" y="369.5" width="2.2" height="2.5"/>
<path class="g" d="M12.5,446 C18,444.5 24,447 28,448 C36,450 41,455.5 49,455 C55,454.5 60,453 65,454.5 C71,456.5 77,458 78.5,463 C80,468 82.5,473 83,479 C83.5,484 87,486 86,491 C85,496 82,499 79.5,503.5 C76,510 70,515 66,520 C64,523 64.5,527 62,530.5 C60,533.5 55.5,536.5 52,540.5 C49,544 43.5,547.5 39,548.8 C33,550.5 28,550 22.8,551.2 C18,552.3 14,552.5 10.6,552.8"/>
<path class="g" d="M24.5,469 C25,464 28,460.5 33,460 C39,459.5 46,460.5 52,460.2 C59,460 68,460 72,464 C76,468 77.5,473 78,479 C78.5,485 80,490 78.5,495.5 C77,501 70,506 65.5,511.5 C61.5,516.5 60.5,523 56.5,526.5 C52.5,529.5 47,529.8 42,529.2 C36.5,528.5 31,527.5 27.5,524 C24,520.5 22.5,516.5 22,512.5 C21.7,509.5 22,506.5 23,504"/>
<ellipse class="g" cx="15.0" cy="477.5" rx="4.2" ry="3.4" transform="rotate(0 15.0 477.5)"/>
<ellipse class="g" cx="22.2" cy="475.8" rx="3.8" ry="3.2" transform="rotate(-20 22.2 475.8)"/>
<ellipse class="g" cx="14.2" cy="484.0" rx="3.4" ry="3.8" transform="rotate(0 14.2 484.0)"/>
<ellipse class="g" cx="21.5" cy="482.5" rx="4.0" ry="3.5" transform="rotate(10 21.5 482.5)"/>
<ellipse class="g" cx="27.0" cy="488.0" rx="3.0" ry="4.6" transform="rotate(15 27.0 488.0)"/>
<ellipse class="g" cx="15.5" cy="491.5" rx="4.5" ry="3.6" transform="rotate(0 15.5 491.5)"/>
<ellipse class="g" cx="23.0" cy="491.0" rx="3.8" ry="3.4" transform="rotate(0 23.0 491.0)"/>
<ellipse class="g" cx="14.5" cy="499.0" rx="3.6" ry="3.3" transform="rotate(0 14.5 499.0)"/>
<ellipse class="g" cx="21.8" cy="497.5" rx="4.2" ry="3.6" transform="rotate(10 21.8 497.5)"/>
<ellipse class="g" cx="18.5" cy="504.5" rx="6.5" ry="3.8" transform="rotate(-12 18.5 504.5)"/>
<ellipse class="g" cx="27.3" cy="496.5" rx="2.6" ry="3.8" transform="rotate(20 27.3 496.5)"/>
<path class="g" d="M10.6,508 C14,510 18,510.5 21,509 M10.6,518 C14,518 16.5,515 17,511"/>
<rect class="g" x="10.0" y="570.7" width="52.7" height="7.0"/>
<rect class="t" x="14.0" y="573.0" width="44.5" height="2.5"/>
<circle class="g" cx="13.2" cy="574.2" r="1.8"/>
<circle class="g" cx="35.5" cy="574.2" r="1.8"/>
<circle class="g" cx="59.3" cy="574.2" r="1.8"/>
<rect class="g" x="11.3" y="577.7" width="44.3" height="33.8"/>
<path class="g" d="M11.3,577.7 L55.6,611.5 M55.6,577.7 L11.3,611.5"/>
<rect class="g" x="54.6" y="605.3" width="8.1" height="6.2"/>
<path class="g" d="M54.6,605.3 L62.7,611.5 M62.7,605.3 L54.6,611.5"/>
<line class="g" x1="62.7" y1="577.7" x2="62.7" y2="605.3"/>
<path class="t" d="M12.5,590 L12.5,598 M10.8,592 L14.2,592 M10.8,596 L14.2,596"/>
<rect class="w" x="179.9" y="521.0" width="7.7" height="24.0"/>
<text class="r" x="722.0" y="68.7" font-size="14.2" text-anchor="middle">VERANDA</text>
<text class="rd" x="722.0" y="83.7" font-size="13.7" text-anchor="middle" textLength="53.7" lengthAdjust="spacingAndGlyphs">24' X 17'</text>
<text class="r" x="610.5" y="224.2" font-size="14.2" text-anchor="middle">MORNING</text>
<text class="rd" x="610.6" y="240.7" font-size="13.7" text-anchor="middle" textLength="50.2" lengthAdjust="spacingAndGlyphs">12' X 8'</text>
<text class="r" x="751.5" y="210.2" font-size="14.2" text-anchor="middle">FAMILY ROOM</text>
<text class="rd" x="752.0" y="226.6" font-size="13.7" text-anchor="middle" textLength="55.9" lengthAdjust="spacingAndGlyphs">18' X 18'</text>
<text class="r" x="721.5" y="349.6" font-size="14.2" text-anchor="middle">KITCHEN</text>
<text class="rd" x="721.7" y="364.9" font-size="13.7" text-anchor="middle" textLength="53.2" lengthAdjust="spacingAndGlyphs">23' X 13'</text>
<text class="r" x="476.8" y="369.7" font-size="14.2" text-anchor="middle">LIVING ROOM</text>
<text class="rd" x="477.7" y="386.5" font-size="13.7" text-anchor="middle" textLength="55.9" lengthAdjust="spacingAndGlyphs">18' X 21'</text>
<text class="r" x="301.8" y="355.9" font-size="14.2" text-anchor="middle">MASTER SUITE</text>
<text class="rd" x="302.5" y="372.4" font-size="13.7" text-anchor="middle" textLength="56.7" lengthAdjust="spacingAndGlyphs">16' X 20'</text>
<text class="r" x="299.6" y="214.5" font-size="14.2" text-anchor="middle">DECK</text>
<text class="rd" x="302.0" y="230.7" font-size="13.7" text-anchor="middle" textLength="52.5" lengthAdjust="spacingAndGlyphs">16' X 11'</text>
<text class="r" x="238.0" y="488.8" font-size="14.2" text-anchor="middle">M. BATH</text>
<text class="rd" x="236.0" y="504.9" font-size="13.7" text-anchor="middle" textLength="52.8" lengthAdjust="spacingAndGlyphs">20' X 11'</text>
<text class="r" x="228.2" y="561.8" font-size="14.2" text-anchor="middle">W.I.C.</text>
<text class="rd" x="230.5" y="578.2" font-size="13.7" text-anchor="middle" textLength="45.6" lengthAdjust="spacingAndGlyphs">14' X 7'</text>
<text class="r" x="406.2" y="566.8" font-size="14.2" text-anchor="middle">FOYER</text>
<text class="rd" x="406.5" y="583.2" font-size="13.7" text-anchor="middle" textLength="56.6" lengthAdjust="spacingAndGlyphs">18' X 13'</text>
<text class="r" x="595.0" y="539.3" font-size="14.2" text-anchor="middle">DINING ROOM</text>
<text class="rd" x="595.3" y="555.8" font-size="13.7" text-anchor="middle" textLength="56.4" lengthAdjust="spacingAndGlyphs">16' X 13'</text>
<text class="r" x="476.7" y="633.2" font-size="14.2" text-anchor="middle">PORCH</text>
<text class="rd" x="476.0" y="648.4" font-size="13.7" text-anchor="middle" textLength="53.1" lengthAdjust="spacingAndGlyphs">15' X 10'</text>
<text class="r" x="285.7" y="683.7" font-size="14.2" text-anchor="middle">LIBRARY</text>
<text class="rd" x="286.5" y="699.9" font-size="13.7" text-anchor="middle" textLength="57.7" lengthAdjust="spacingAndGlyphs">14' X 15'</text>
<text class="r" x="790.3" y="623.0" font-size="14" text-anchor="middle" textLength="108.0" lengthAdjust="spacingAndGlyphs">3 CAR GARAGE</text>
<text class="s" x="783.8" y="637.4" font-size="14" text-anchor="middle">24' X 32'</text>
<text class="l" x="122.0" y="539.6" font-size="13" text-anchor="middle" textLength="56.0" lengthAdjust="spacingAndGlyphs">OPTIONAL</text>
<text class="r" x="121.0" y="556.6" font-size="14.2" text-anchor="middle">PATIO</text>
<text class="rd" x="121.8" y="573.4" font-size="14" text-anchor="middle" textLength="57.0" lengthAdjust="spacingAndGlyphs">24' X 19'</text>
<text class="s" x="591.5" y="449.2" font-size="14" text-anchor="middle">B.P</text>
<text class="s" x="593.8" y="463.6" font-size="14" text-anchor="middle">8' X 4'</text>
<text class="s" x="684.8" y="450.6" font-size="14" text-anchor="middle">9' x 7'</text>
<text class="s" x="811.6" y="318.6" font-size="12.5" text-anchor="middle" textLength="36.0" lengthAdjust="spacingAndGlyphs">PANTRY</text>
<text class="s" x="812.3" y="331.2" font-size="12" text-anchor="middle" textLength="26.1" lengthAdjust="spacingAndGlyphs">5' X 6'</text>
<text class="s" x="750.5" y="324.9" font-size="10.5" text-anchor="middle" textLength="41.9" lengthAdjust="spacingAndGlyphs">SHELVES</text>
<text class="s" x="703.3" y="321.2" font-size="11" text-anchor="middle" textLength="15.4" lengthAdjust="spacingAndGlyphs">DW</text>
<text class="s" x="576.9" y="352.2" font-size="10" text-anchor="middle" textLength="18.2" lengthAdjust="spacingAndGlyphs">REF.</text>
<text class="s" x="722.0" y="393.0" font-size="11" text-anchor="middle" textLength="13.1" lengthAdjust="spacingAndGlyphs">OV</text>
<text class="s" x="654.3" y="420.5" font-size="11" text-anchor="middle" textLength="13.0" lengthAdjust="spacingAndGlyphs">LN</text>
<text class="s" x="720.0" y="423.0" font-size="11.5" text-anchor="middle" textLength="15.1" lengthAdjust="spacingAndGlyphs">CC</text>
<text class="rd" x="758.0" y="424.4" font-size="11.5" text-anchor="middle" textLength="12.7" lengthAdjust="spacingAndGlyphs">UP</text>
<text class="rd" x="794.1" y="460.0" font-size="11.5" text-anchor="middle" textLength="12.7" lengthAdjust="spacingAndGlyphs">UP</text>
<text class="s" x="795.0" y="384.9" font-size="11.5" text-anchor="middle" textLength="44.6" lengthAdjust="spacingAndGlyphs">LAUNDRY</text>
<text class="s" x="794.8" y="398.0" font-size="11.5" text-anchor="middle" textLength="25.0" lengthAdjust="spacingAndGlyphs">7' X 6'</text>
<text class="s" x="830.8" y="368.4" font-size="11" text-anchor="middle">D</text>
<text class="s" x="830.8" y="392.5" font-size="11" text-anchor="middle">W</text>
<text class="s" x="835.8" y="433.6" font-size="10.5" text-anchor="middle" textLength="25.9" lengthAdjust="spacingAndGlyphs">STOR.</text>
<text class="s" x="881.4" y="437.7" font-size="11.5" text-anchor="middle" textLength="42.8" lengthAdjust="spacingAndGlyphs">FRIEND'S</text>
<text class="s" x="881.2" y="451.1" font-size="11.5" text-anchor="middle" textLength="32.9" lengthAdjust="spacingAndGlyphs">PORCH</text>
<text class="s" x="441.1" y="529.2" font-size="10.5" text-anchor="middle" textLength="12.5" lengthAdjust="spacingAndGlyphs">DN</text>
<text class="s" x="357.2" y="568.0" font-size="10.5" text-anchor="middle" textLength="12.5" lengthAdjust="spacingAndGlyphs">UP</text>
</svg>
</body></html>
